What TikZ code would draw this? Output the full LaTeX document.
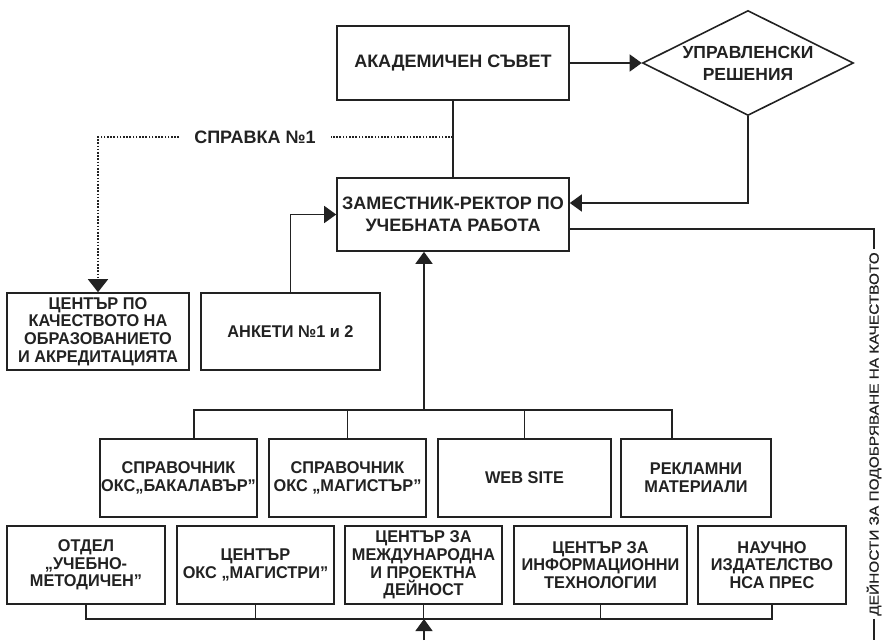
\documentclass[tikz,border=0pt]{standalone}
\usepackage{fontspec}
\setmainfont{Liberation Sans}
\newfontfamily\wfont{Liberation Sans}[FakeStretch=0.96]
\newfontfamily\vfont{Liberation Sans}[FakeStretch=1.16,FakeBold=0.6]
\usetikzlibrary{shapes.geometric,arrows.meta}
\definecolor{ink}{HTML}{222222}
\begin{document}
\begin{tikzpicture}[x=1pt,y=-1pt,
  box/.style={draw=ink, line width=1.6pt, align=center, inner sep=0pt, text=ink,
    font=\wfont\bfseries\fontsize{17}{17.6}\selectfont},
  bigbox/.style={box, font=\bfseries\fontsize{18}{22.5}\selectfont},
  conn/.style={draw=ink, line width=1.5pt},
  arr/.style={conn, -{Triangle[length=12pt,width=17pt]}},
  dots/.style={draw=ink, line width=1.6pt, dash pattern=on 1.6pt off 1.6pt},
  vtext/.style={text=ink, inner sep=3pt, font=\vfont\fontsize{13.3}{15}\selectfont}
]
\fill[white] (0,0) rectangle (883,640);
\useasboundingbox (0,0) rectangle (883,640);

% top
\node[bigbox, minimum width=232pt, minimum height=74pt] (as) at (453,63) {АКАДЕМИЧЕН СЪВЕТ};
\node[draw=ink, line width=1.6pt, diamond, shape aspect=2, inner sep=0pt,
  minimum width=211pt, minimum height=105pt, align=center, text=ink,
  font=\bfseries\fontsize{17.5}{22}\selectfont] (dm) at (748,63) {УПРАВЛЕНСКИ\\РЕШЕНИЯ};
\node[bigbox, minimum width=232pt, minimum height=73pt] (zr) at (453,214.5) {ЗАМЕСТНИК-РЕКТОР ПО\\УЧЕБНАТА РАБОТА};
\node[text=ink, inner xsep=15pt, inner ysep=0pt, font=\bfseries\fontsize{18}{20}\selectfont] (sp) at (255,137) {СПРАВКА №1};

% left boxes
\node[box, minimum width=182pt, minimum height=77pt] (ctr) at (98,331.5) {ЦЕНТЪР ПО\\КАЧЕСТВОТО НА\\ОБРАЗОВАНИЕТО\\И АКРЕДИТАЦИЯТА};
\node[box, minimum width=179pt, minimum height=77pt] (ank) at (290.5,331.5) {АНКЕТИ №1 и 2};

% row 2
\node[box, minimum width=157pt, minimum height=78pt] (r2a) at (178.5,478) {СПРАВОЧНИК\\ОКС„БАКАЛАВЪР”};
\node[box, minimum width=157pt, minimum height=78pt] (r2b) at (347.5,478) {СПРАВОЧНИК\\ОКС „МАГИСТЪР”};
\node[box, minimum width=173pt, minimum height=78pt] (r2c) at (524.5,478) {WEB SITE};
\node[box, minimum width=150pt, minimum height=78pt] (r2d) at (696,478) {РЕКЛАМНИ\\МАТЕРИАЛИ};

% row 3
\node[box, minimum width=158pt, minimum height=78pt] (r3a) at (86,565) {ОТДЕЛ\\„УЧЕБНО-\\МЕТОДИЧЕН”};
\node[box, minimum width=157pt, minimum height=78pt] (r3b) at (255.5,565) {ЦЕНТЪР\\ОКС „МАГИСТРИ”};
\node[box, minimum width=157pt, minimum height=78pt] (r3c) at (423.5,565) {ЦЕНТЪР ЗА\\МЕЖДУНАРОДНА\\И ПРОЕКТНА\\ДЕЙНОСТ};
\node[box, minimum width=173pt, minimum height=78pt] (r3d) at (600.5,565) {ЦЕНТЪР ЗА\\ИНФОРМАЦИОННИ\\ТЕХНОЛОГИИ};
\node[box, minimum width=148pt, minimum height=78pt] (r3e) at (772,565) {НАУЧНО\\ИЗДАТЕЛСТВО\\НСА ПРЕС};

% right vertical label
\node[vtext, rotate=90] (vt) at (874,434) {ДЕЙНОСТИ ЗА ПОДОБРЯВАНЕ НА КАЧЕСТВОТО};

% connectors
\draw[arr] (as.east) -- (dm.west);
\draw[conn] (as.south) -- (zr.north);
\draw[arr] (dm.south) |- ([yshift=11.5pt]zr.east);
\draw[arr] (ank.north) |- (zr.west);
\draw[dots] (as.south |- sp.east) -- (sp.east);
\draw[dots, -{Triangle[length=13pt,width=20pt]}] (sp.west) -| (ctr.north);

\coordinate (rc) at (874,229);
\coordinate (rb) at (874,640);
\draw[conn] (rc -| zr.east) -- (rc) -- (vt.east);
\draw[conn] (vt.west) -- (rb);

\coordinate (b1) at (424,410);
\coordinate (b1l) at (194,410);
\coordinate (b1r) at (672,410);
\draw[arr] (b1) -- (b1 |- zr.south);
\draw[conn] (b1l |- r2a.north) -- (b1l) -- (b1r) -- (b1r |- r2d.north);
\draw[conn] (r2b.north) -- (r2b.north |- b1);
\draw[conn] (r2c.north) -- (r2c.north |- b1);

\coordinate (b2) at (424,619);
\coordinate (bb) at (424,640);
\draw[conn] (r3a.south) -- (r3a.south |- b2) -- (r3e.south |- b2) -- (r3e.south);
\draw[conn] (r3b.south) -- (r3b.south |- b2);
\draw[conn] (r3c.south) -- (r3c.south |- b2);
\draw[conn] (r3d.south) -- (r3d.south |- b2);
\draw[arr] (bb) -- (b2);
\end{tikzpicture}
\end{document}
